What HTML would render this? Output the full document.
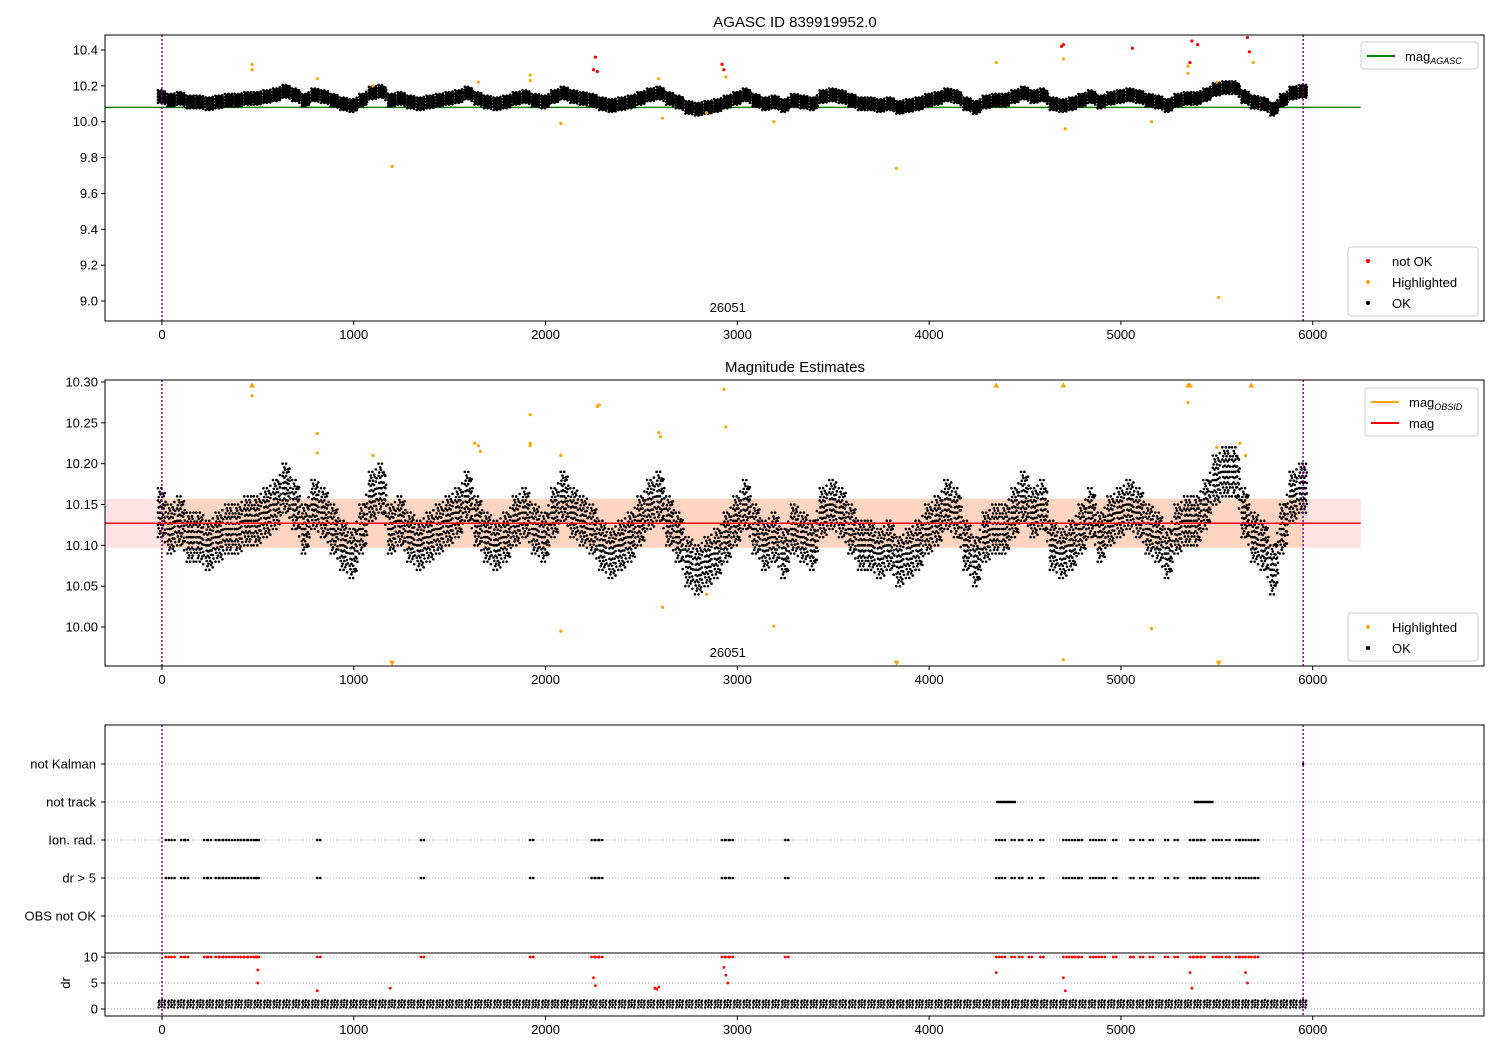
<!DOCTYPE html>
<html><head><meta charset="utf-8"><style>
body{margin:0;background:#fff}
svg text{font-family:"Liberation Sans",sans-serif;fill:#000}
</style></head><body>
<svg id="c" width="1500" height="1050" xmlns="http://www.w3.org/2000/svg"></svg>
<script>
// ---- data ----
const sampleX = [];for(let i=0;i<120;i++)sampleX.push(i*50);
const magValues = [10.14,10.12,10.13,10.11,10.11,10.10,10.11,10.12,10.12,10.13,10.13,10.14,10.15,10.17,10.15,10.12,10.15,10.14,10.12,10.10,
10.09,10.12,10.16,10.17,10.12,10.13,10.11,10.10,10.11,10.12,10.13,10.14,10.16,10.13,10.11,10.10,10.11,10.13,10.14,10.12,
10.11,10.14,10.16,10.14,10.13,10.12,10.10,10.09,10.10,10.11,10.13,10.15,10.16,10.13,10.11,10.08,10.07,10.08,10.09,10.11,
10.13,10.15,10.12,10.10,10.11,10.09,10.12,10.11,10.10,10.14,10.15,10.14,10.12,10.10,10.10,10.09,10.10,10.08,10.09,10.10,
10.12,10.13,10.15,10.14,10.10,10.08,10.11,10.12,10.12,10.14,10.16,10.14,10.15,10.10,10.09,10.10,10.12,10.14,10.11,10.13,
10.14,10.15,10.14,10.12,10.11,10.09,10.12,10.13,10.13,10.15,10.18,10.19,10.19,10.14,10.11,10.10,10.07,10.12,10.16,10.17];
const magSpread = 0.03;
const drValue = 1.0, drSpread = 0.7;
const hiX2 = [470,810,810,1100,1630,1650,1660,1920,1920,1920,2080,2080,2270,2280,2590,2600,2610,2840,2930,2940,3190,4700,5160,5350,5500,5620,5650];
const hiY2 = [10.283,10.237,10.213,10.21,10.225,10.222,10.215,10.26,10.225,10.222,10.21,9.995,10.27,10.272,10.238,10.233,10.024,10.04,10.291,10.245,10.001,9.96,9.998,10.275,10.22,10.225,10.21];
const upX2 = [470,4350,4700,5350,5360,5680];
const downX2 = [1200,3830,5510];
const redX1 = [2250,2260,2270,2920,2930,4690,4700,5060,5360,5370,5400,5660,5670];
const redY1 = [10.29,10.36,10.28,10.32,10.29,10.42,10.43,10.41,10.33,10.45,10.43,10.47,10.39];
const orX1 = [470,470,810,1200,1920,1920,2080,2590,2610,2840,2940,3190,3830,4350,4700,4710,5160,5350,5350,5510,5500,5690,1100,1650];
const orY1 = [10.32,10.29,10.24,9.75,10.26,10.23,9.99,10.24,10.02,10.05,10.25,10.00,9.74,10.33,10.35,9.96,10.00,10.27,10.31,9.02,10.22,10.33,10.2,10.22];
const flagX = [20,50,100,120,220,240,280,300,320,350,380,410,430,450,480,490,810,1350,1920,2240,2260,2280,2920,2940,2960,3250,4350,4380,4430,4470,4520,4580,4700,4730,4760,4780,4840,4870,4900,4960,5050,5100,5150,5230,5280,5360,5380,5400,5420,5480,5510,5550,5600,5620,5650,5680,5700];
const trackX = [4360,4380,4400,4420,4440,5390,5410,5430,5450,5470];
const drMidX = [500,500,2250,2260,2570,2580,2590,2930,2940,2950,4700,4710,5360,5370,5650,5660,1190,810,4350];
const drMidY = [7.5,5,6,4.5,4,3.8,4.2,8,6.5,5,6,3.5,7,4,7,5,4,3.5,7];
const agascMag = 10.08, obsMag = 10.127, obsStd = 0.030;
const catLabels = ["not Kalman","not track","Ion. rad.","dr > 5","OBS not OK"];
const xTicks = [0,1000,2000,3000,4000,5000,6000];
const y1Ticks = [9.0,9.2,9.4,9.6,9.8,10.0,10.2,10.4];
const y2Ticks = [10.00,10.05,10.10,10.15,10.20,10.25,10.30];
const y4Ticks = [0,5,10];

// ---- helpers ----
const svg=document.getElementById('c');const NS='http://www.w3.org/2000/svg';
function el(t,a,p){const e=document.createElementNS(NS,t);for(const k in a)e.setAttribute(k,a[k]);(p||svg).appendChild(e);return e;}
const L=105,R=1484;
const X=v=>L+(v+297)/(7190)*(R-L);
function lin(d0,d1,p0,p1){return v=>p0+(v-d0)/(d1-d0)*(p1-p0);}
const Y1=lin(9.0,10.4,301,50), Y2=lin(10.0,10.3,627,382), Y4=lin(0,10,1009,957);
const catY=i=>764+i*38;
// fixed dot layout (style, not data)
const DX=[-21,-12,-3,6,15], DY=[-1,-0.75,-0.5,-0.25,0,0.25,0.5,0.75,1];
const DXs=[-18,-3,12], DYs=[-1,-0.3,0.4,1];

function xAxis(bottom,name){
  const g=el('g',{});
  xTicks.forEach(t=>{el('line',{x1:X(t),x2:X(t),y1:bottom,y2:bottom+4,stroke:'#000'},g);
    const tx=el('text',{x:X(t),y:bottom+18,'font-size':13,'text-anchor':'middle'},g);tx.textContent=t;});
}
function yAxis(ticks,Y,fmt,name){
  const g=el('g',{});
  ticks.forEach(t=>{el('line',{x1:L-4,x2:L,y1:Y(t),y2:Y(t),stroke:'#000'},g);
    const tx=el('text',{x:L-7,y:Y(t)+4.5,'font-size':13,'text-anchor':'end'},g);tx.textContent=fmt(t);});
}
function frame(t,b,name){const r=el('rect',{x:L,y:t,width:R-L,height:b-t,fill:'none',stroke:'#000'});}
function vlines(t,b){[0,5950].forEach(v=>el('line',{x1:X(v),x2:X(v),y1:t,y2:b,stroke:'purple','stroke-dasharray':'2,2','stroke-width':1.5}));}
function cloud(vals,spread,Y,name,dxs,dys,r){
  const g=el('g',{});
  sampleX.forEach((x,i)=>{
    const v0=typeof vals==='number'?vals:vals[i];
    const v1=typeof vals==='number'?vals:(vals[i+1]!==undefined?vals[i+1]:vals[i]);
    dxs.forEach((dx,j)=>dys.forEach((dy,k)=>{
      const f=(dx+25)/50, c=v0+(v1-v0)*Math.max(0,f-0.5);
      const off=dy*spread*((j+k)%2?0.85:1);
      el('circle',{cx:X(x+dx+((k%2)?4:0)),cy:Y(c+off),r:r,fill:'#000'},g);}));
  });
}
function legend(x,y,w,items,name){
  const g=el('g',{});
  el('rect',{x,y,width:w,height:items.length*21+6,fill:'#fff',stroke:'#ccc',rx:3},g);
  items.forEach((it,i)=>{const cy=y+14+i*21;
    if(it.line)el('line',{x1:x+6,x2:x+34,y1:cy,y2:cy,stroke:it.c,'stroke-width':2},g);
    else el('circle',{cx:x+20,cy,r:2,fill:it.c},g);
    const tx=el('text',{x:x+44,y:cy+5,'font-size':13},g);tx.innerHTML=it.t;});
}

// ---- panel 1 ----
const t1=el('text',{x:795,y:27,'font-size':15,'text-anchor':'middle'});t1.textContent='AGASC ID 839919952.0';

el('line',{x1:X(-297),x2:X(6250),y1:Y1(agascMag),y2:Y1(agascMag),stroke:'green','stroke-width':1.5});
cloud(magValues,0.035,Y1,'ok-points-1',DX,DY,1.3);
orX1.forEach((x,i)=>el('circle',{cx:X(x),cy:Y1(orY1[i]),r:1.6,fill:'orange'}));
redX1.forEach((x,i)=>el('circle',{cx:X(x),cy:Y1(redY1[i]),r:1.6,fill:'red'}));
vlines(35,321);frame(35,321,'panel-agasc');xAxis(321,'x-axis-1');yAxis(y1Ticks,Y1,v=>v.toFixed(1),'y-axis-1');
el('text',{x:X(2950),y:312,'font-size':13,'text-anchor':'middle'}).textContent='26051';
legend(1361,42,117,[{c:'green',line:1,t:'mag<tspan font-size="9" font-style="italic" dy="3">AGASC</tspan>'}],'legend-agasc');
legend(1348,247,130,[{c:'red',t:'not OK'},{c:'orange',t:'Highlighted'},{c:'#000',t:'OK'}],'legend-points-1');

// ---- panel 2 ----
el('text',{x:795,y:372,'font-size':15,'text-anchor':'middle'}).textContent='Magnitude Estimates';
el('rect',{x:X(-297),y:Y2(obsMag+obsStd),width:X(6250)-X(-297),height:Y2(obsMag-obsStd)-Y2(obsMag+obsStd),fill:'#ffcccc','fill-opacity':0.55});
el('rect',{x:X(0),y:Y2(obsMag+obsStd),width:X(5950)-X(0),height:Y2(obsMag-obsStd)-Y2(obsMag+obsStd),fill:'#ffc8a0','fill-opacity':0.5});
cloud(magValues,magSpread,Y2,'ok-points-2',DX,DY,1.3);
el('line',{x1:X(0),x2:X(5950),y1:Y2(obsMag),y2:Y2(obsMag),stroke:'orange','stroke-width':1.5});
el('line',{x1:X(-297),x2:X(6250),y1:Y2(obsMag),y2:Y2(obsMag),stroke:'red','stroke-width':1.5});
hiX2.forEach((x,i)=>el('circle',{cx:X(x),cy:Y2(hiY2[i]),r:1.6,fill:'orange'}));
upX2.forEach(x=>el('path',{d:`M${X(x)-3},${Y2(10.297)+3}l3,-5l3,5z`,fill:'orange'}));
downX2.forEach(x=>el('path',{d:`M${X(x)-3},${Y2(9.955)-3}l3,5l3,-5z`,fill:'orange'}));
vlines(380,666);frame(380,666,'panel-estimates');xAxis(666,'x-axis-2');yAxis(y2Ticks,Y2,v=>v.toFixed(2),'y-axis-2');
el('text',{x:X(2950),y:657,'font-size':13,'text-anchor':'middle'}).textContent='26051';
legend(1365,388,113,[{c:'orange',line:1,t:'mag<tspan font-size="9" font-style="italic" dy="3">OBSID</tspan>'},{c:'red',line:1,t:'mag'}],'legend-mag');
legend(1348,613,130,[{c:'orange',t:'Highlighted'},{c:'#000',t:'OK'}],'legend-points-2');

// ---- panel 3 flags ----
catLabels.forEach((c,i)=>{el('line',{x1:L,x2:R,y1:catY(i),y2:catY(i),stroke:'#aaa','stroke-dasharray':'1,2'});
  el('line',{x1:L-4,x2:L,y1:catY(i),y2:catY(i),stroke:'#000'});
  el('text',{x:L-9,y:catY(i)+4.5,'font-size':13,'text-anchor':'end'}).textContent=c;});
flagX.forEach(x=>{[2,3].forEach(k=>{el('circle',{cx:X(x),cy:catY(k),r:1.3,fill:'#000'});el('circle',{cx:X(x)+3,cy:catY(k),r:1.3,fill:'#000'});});});
trackX.forEach(x=>el('rect',{x:X(x)-2,y:catY(1)-1.2,width:4.5,height:2.4,fill:'#000'}));
el('circle',{cx:X(5950),cy:catY(0),r:1.2,fill:'#000'});
vlines(725,953);frame(725,953,'panel-flags');

// ---- panel 4 dr ----
[0,5,10].forEach(t=>el('line',{x1:L,x2:R,y1:Y4(t),y2:Y4(t),stroke:'#aaa','stroke-dasharray':'1,2'}));
cloud(drValue,drSpread,Y4,'ok-points-dr',DXs,DYs,1.2);
flagX.forEach(x=>{el('circle',{cx:X(x),cy:Y4(10),r:1.4,fill:'red'});el('circle',{cx:X(x)+3,cy:Y4(10),r:1.4,fill:'red'});});
drMidX.forEach((x,i)=>el('circle',{cx:X(x),cy:Y4(drMidY[i]),r:1.4,fill:'red'}));
vlines(953,1016);frame(953,1016,'panel-dr');xAxis(1016,'x-axis-4');yAxis(y4Ticks,Y4,v=>v,'y-axis-4');
const dl=el('text',{x:70,y:983,'font-size':13,'text-anchor':'middle',transform:'rotate(-90 70 983)'});dl.textContent='dr';

</script>
</body></html>
